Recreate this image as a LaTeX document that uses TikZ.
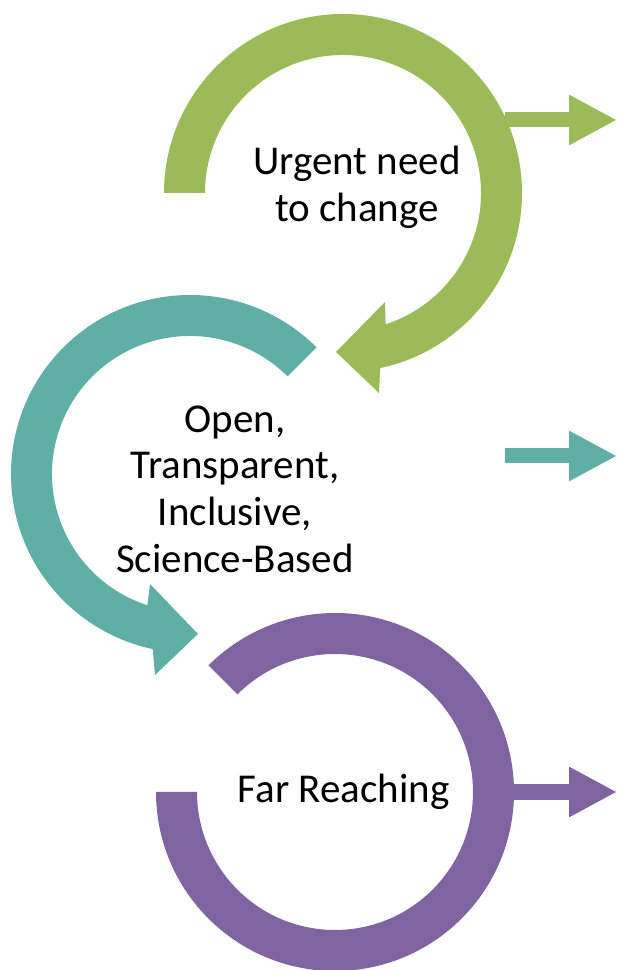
\documentclass[tikz,border=0pt]{standalone}
\usepackage{fontspec}
\setmainfont{Carlito}
\usetikzlibrary{arrows.meta, calc}
\definecolor{ringgreen}{HTML}{9BBB59}
\definecolor{ringteal}{HTML}{5FAFA6}
\definecolor{ringpurple}{HTML}{8064A2}

\begin{document}
\begin{tikzpicture}[x=1pt, y=1pt, line join=miter,
	caption/.style={font=\fontsize{41}{46.7}\selectfont, align=center, inner sep=0pt},
	outarrow/.style={line width=15pt, -{Triangle[length=48pt 0 1, width=47pt 0 1]}}]

\useasboundingbox[fill=white] (0,0) rectangle (623,970);

% ================= Top: green ring =================
\coordinate (G) at (343,777);
\fill[ringgreen] ($(G)+(180:179)$) arc[start angle=180, end angle=-78, radius=179pt]
	-- ($(G)+(36,-200)$) -- ($(G)+(-7,-159)$) -- ($(G)+(42,-109)$)
	-- ($(G)+(-72:138)$) arc[start angle=-72, end angle=180, radius=138pt] -- cycle;
\coordinate (gfrom) at (505,850);
\coordinate (gto) at (617,850);
\draw[ringgreen, outarrow] (gfrom) -- (gto);
\node[caption] (urgent) at (357,783) {Urgent need\\to change};

% ================= Middle: teal ring =================
\coordinate (T) at (190,496);
\fill[ringteal] ($(T)+(45:179)$) arc[start angle=45, end angle=258, radius=179pt]
	-- ($(T)+(-35,-201)$) -- ($(T)+(8,-160)$) -- ($(T)+(-40,-110)$)
	-- ($(T)+(252:138)$) arc[start angle=252, end angle=45, radius=138pt] -- cycle;
\coordinate (tfrom) at (505,514);
\coordinate (tto) at (617,514);
\draw[ringteal, outarrow] (tfrom) -- (tto);
\node[caption] (open) at (235,481) {Open,\\Transparent,\\Inclusive,\\Science-Based};

% ================= Bottom: purple ring =================
\coordinate (P) at (335,178);
\fill[ringpurple] ($(P)+(180:179)$) arc[start angle=180, end angle=495, radius=179pt]
	-- ($(P)+(135:138)$) arc[start angle=135, end angle=-180, radius=138pt] -- cycle;
\coordinate (pfrom) at (505,178);
\coordinate (pto) at (617,178);
\draw[ringpurple, outarrow, line width=16pt] (pfrom) -- (pto);
\node[caption, anchor=base] (far) at (343.5,167) {Far Reaching};

\end{tikzpicture}
\end{document}
